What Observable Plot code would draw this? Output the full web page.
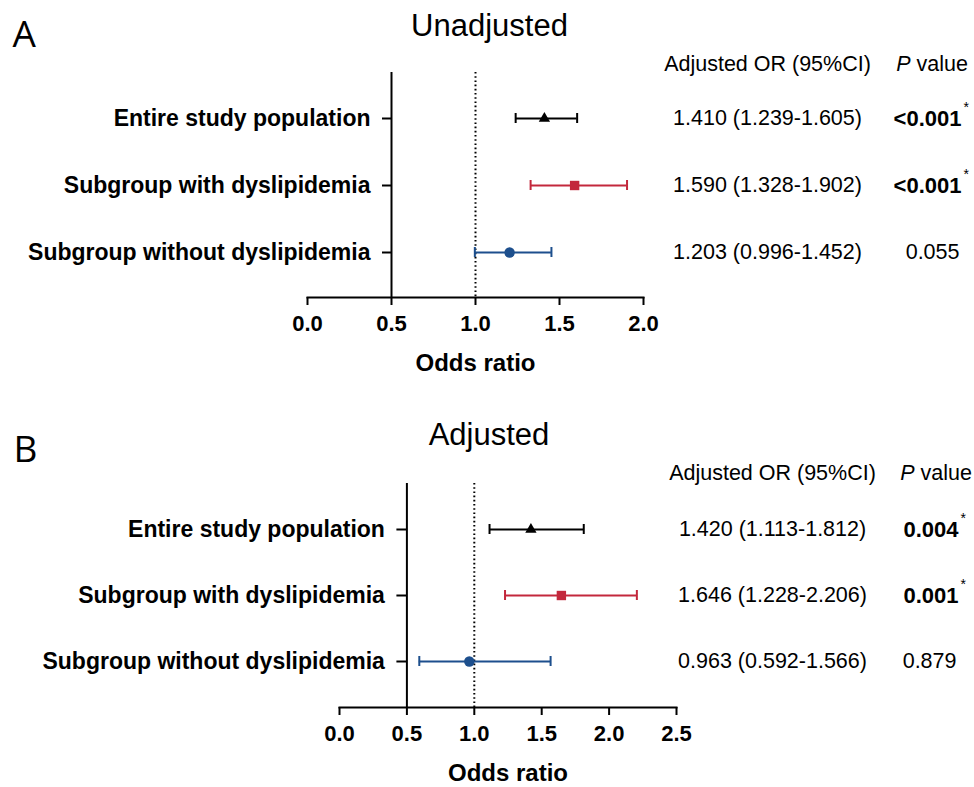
<!DOCTYPE html>
<html>
<head>
<meta charset="utf-8">
<script src="https://cdn.jsdelivr.net/npm/d3@7"></script>
<script src="https://cdn.jsdelivr.net/npm/@observablehq/plot@0.6"></script>
<style>
  html, body { margin: 0; padding: 0; background: #fff; }
  #chart svg { display: block; }
</style>
</head>
<body>
<div id="chart"></div>
<script>
// ---- data ----
const groups = ["Entire study population", "Subgroup with dyslipidemia", "Subgroup without dyslipidemia"];

const orA = [1.410, 1.590, 1.203];
const loA = [1.239, 1.328, 0.996];
const hiA = [1.605, 1.902, 1.452];
const pA = ["<0.001", "<0.001", "0.055"];
const sigA = [true, true, false];
const ticksA = [0, 0.5, 1, 1.5, 2];

const orB = [1.420, 1.646, 0.963];
const loB = [1.113, 1.228, 0.592];
const hiB = [1.812, 2.206, 1.566];
const pB = ["0.004", "0.001", "0.879"];
const sigB = [true, true, false];
const ticksB = [0, 0.5, 1, 1.5, 2, 2.5];

const refLine = [1];
const yAxisAt = 0.5;

// ---- styles ----
const colors = ["#000000", "#c3283c", "#1d4f8d"];
const shapes = ["triangle", "square", "circle"];
const sizes = [4.2, 5.3, 5.2];
const FONT = "'Liberation Sans', Arial, sans-serif";

function panel(cfg) {
  const rows = groups.map((g, i) => ({
    group: g, or: cfg.or[i], lo: cfg.lo[i], hi: cfg.hi[i],
    ci: `${cfg.or[i].toFixed(3)} (${cfg.lo[i].toFixed(3)}-${cfg.hi[i].toFixed(3)})`,
    p: cfg.p[i], sig: cfg.sig[i], axisAt: yAxisAt
  }));
  const sigRows = rows.filter(d => d.sig);
  const nsRows = rows.filter(d => !d.sig);
  const fr = cfg.width - cfg.marginRight; // frame right (px)
  return Plot.plot({
    width: cfg.width,
    height: cfg.height,
    marginLeft: cfg.marginLeft,
    marginRight: cfg.marginRight,
    marginTop: cfg.marginTop,
    marginBottom: cfg.marginBottom,
    style: { fontFamily: FONT, background: "#fff", color: "#000", overflow: "visible" },
    x: { domain: [cfg.ticks[0], cfg.ticks[cfg.ticks.length - 1]], axis: null },
    y: { type: "point", domain: groups, padding: 0.675, axis: null },
    color: { domain: groups, range: colors },
    marks: [
      // panel letter
      Plot.text([cfg.letter], { frameAnchor: "top-left", dx: cfg.letterDx, dy: cfg.letterDy, textAnchor: "start", lineAnchor: "middle", fontSize: 37, fontFamily: "'Open Sans', sans-serif", fill: "#000" }),
      // title
      Plot.text([cfg.title], { frameAnchor: "top", dx: cfg.titleDx, dy: cfg.titleDy, lineAnchor: "middle", fontSize: 31, fill: "#000" }),
      // table headers
      Plot.text(["Adjusted OR (95%CI)"], { frameAnchor: "top-right", dx: cfg.ciX - fr, dy: cfg.headDy, textAnchor: "middle", lineAnchor: "middle", fontSize: 21.5, fill: "#000" }),
      Plot.text(["P"], { frameAnchor: "top-right", dx: cfg.pHeadX - fr, dy: cfg.headDy, textAnchor: "end", lineAnchor: "middle", fontSize: 21.5, fontStyle: "italic", fill: "#000" }),
      Plot.text(["value"], { frameAnchor: "top-right", dx: cfg.pHeadX - fr + 6, dy: cfg.headDy, textAnchor: "start", lineAnchor: "middle", fontSize: 21.5, fill: "#000" }),
      // y axis line
      Plot.ruleX([yAxisAt], { stroke: "#000", strokeWidth: 2 }),
      // x axis line
      Plot.frame({ anchor: "bottom", stroke: "#000", strokeWidth: 2 }),
      // x axis ticks & labels
      Plot.axisX(cfg.ticks, { tickSize: 8, tickPadding: 10, strokeWidth: 2, fontSize: 22, fontWeight: "bold", tickFormat: d3.format(".1f"), label: null, fill: "#000", stroke: "#000" }),
      Plot.text(["Odds ratio"], { frameAnchor: "bottom", dy: cfg.xLabelDy, lineAnchor: "middle", fontSize: 24, fontWeight: "bold", fill: "#000" }),
      // y ticks
      Plot.ruleY(rows, { y: "group", x1: "axisAt", x2: "axisAt", insetLeft: -cfg.yTick, stroke: "#000", strokeWidth: 2 }),
      // y labels
      Plot.text(rows, { x: "axisAt", y: "group", text: "group", textAnchor: "end", dx: cfg.yLabelDx, fontSize: 23, fontWeight: "bold", fill: "#000" }),
      // reference line
      Plot.ruleX(refLine, { stroke: "#000", strokeWidth: 2, strokeDasharray: "1.6 2.6" }),
      // CI bars
      Plot.ruleY(rows, { y: "group", x1: "lo", x2: "hi", stroke: "group", strokeWidth: 2 }),
      Plot.ruleX(rows, { x: "lo", y1: "group", y2: "group", insetTop: -5, insetBottom: -5, stroke: "group", strokeWidth: 2 }),
      Plot.ruleX(rows, { x: "hi", y1: "group", y2: "group", insetTop: -5, insetBottom: -5, stroke: "group", strokeWidth: 2 }),
      // point estimates
      ...groups.map((g, i) => Plot.dot(rows.filter(d => d.group === g), { x: "or", y: "group", symbol: shapes[i], r: sizes[i], fill: colors[i], stroke: "none" })),
      // table values
      Plot.text(rows, { y: "group", text: "ci", frameAnchor: "right", dx: cfg.ciX - fr, textAnchor: "middle", fontSize: 21.5, fill: "#000" }),
      Plot.text(sigRows, { y: "group", text: "p", frameAnchor: "right", dx: cfg.pEndX - fr, textAnchor: "end", fontSize: 22, fontWeight: "bold", fill: "#000" }),
      Plot.text(nsRows, { y: "group", text: "p", frameAnchor: "right", dx: cfg.pEndX - fr - 2, textAnchor: "end", fontSize: 21.5, fill: "#000" }),
      Plot.text(sigRows, { y: "group", text: () => "*", frameAnchor: "right", dx: cfg.pEndX - fr + 2, dy: -11, textAnchor: "start", fontSize: 14, fill: "#000" })
    ]
  });
}

const A = panel({
  letter: "A", title: "Unadjusted",
  or: orA, lo: loA, hi: hiA, p: pA, sig: sigA, ticks: ticksA,
  width: 974, height: 400, marginLeft: 307, marginRight: 331, marginTop: 72, marginBottom: 103,
  letterDx: -295, letterDy: -37, titleDx: 14, titleDy: -46, headDy: -8,
  xLabelDy: 66, yTick: 9, yLabelDx: -21,
  ciX: 767, pHeadX: 910, pEndX: 961
});
const B = panel({
  letter: "B", title: "Adjusted",
  or: orB, lo: loB, hi: hiB, p: pB, sig: sigB, ticks: ticksB,
  width: 974, height: 387, marginLeft: 339, marginRight: 298, marginTop: 83, marginBottom: 80,
  letterDx: -326, letterDy: -33, titleDx: -19, titleDy: -48, headDy: -10,
  xLabelDy: 66, yTick: 10, yLabelDx: -22,
  ciX: 772, pHeadX: 914, pEndX: 958
});
document.getElementById("chart").append(A, B);
</script>
</body>
</html>
